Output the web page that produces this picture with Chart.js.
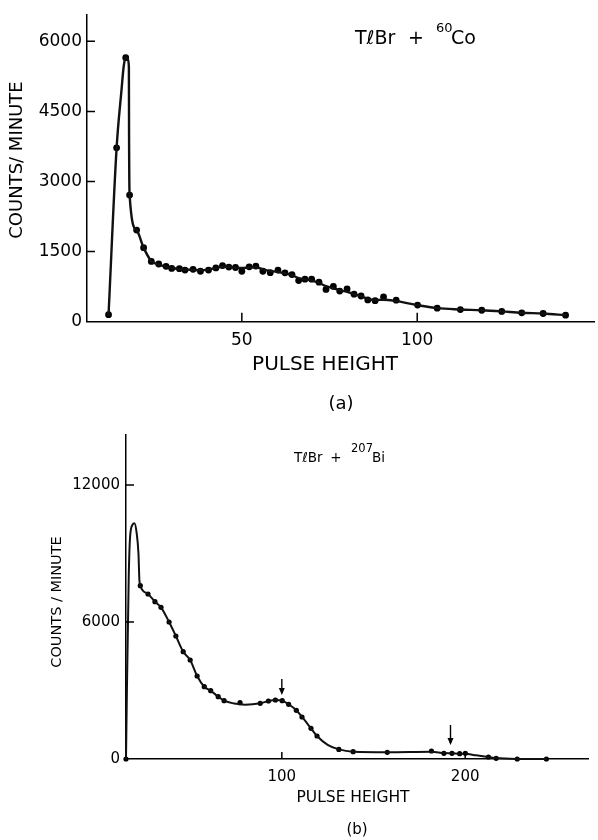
<!DOCTYPE html>
<html>
<head>
    <title>TlBr pulse height spectra</title>
    <script src="https://cdn.jsdelivr.net/npm/chart.js"></script>
    <style>
        body { margin: 0; background: #fff; }
        .panel { position: absolute; left: 0; width: 598px; height: 420px; }
    </style>
</head>
<body>
    <div class="panel" style="top:0"><canvas id="chart-a" width="598" height="420"></canvas></div>
    <div class="panel" style="top:420px"><canvas id="chart-b" width="598" height="420"></canvas></div>

    <script>
        // (a) TlBr + 60Co : measured points
        const coPulse = [12, 14.3, 16.9, 18, 20, 22, 24.2, 26.3, 28.4, 30, 32.2, 33.8, 36.1, 38.2, 40.5, 42.6, 44.5, 46.3, 48.2, 50,
            52.1, 54, 56, 58.1, 60.3, 62.3, 64.3, 66.2, 68, 69.9, 72, 74, 76.1, 77.9, 80, 82, 84, 85.9, 88, 90.4,
            94, 100.1, 105.7, 112.3, 118.4, 124.1, 129.8, 135.9, 142.3];
        const coCounts = [150, 3720, 5650, 2710, 1960, 1585, 1290, 1235, 1185, 1140, 1135, 1105, 1120, 1080, 1105, 1150, 1200, 1170, 1160, 1080,
            1175, 1190, 1080, 1050, 1105, 1045, 1008, 880, 910, 910, 845, 690, 755, 655, 700, 590, 550, 465, 450, 530,
            460, 355, 290, 260, 245, 220, 190, 175, 140];
        // (a) hand-drawn curve
        const coCurvePulse = [12, 14.3, 15.7, 16.3, 16.9, 17.5, 17.8, 17.85, 18, 20, 22, 24.2, 26, 28, 30, 32, 34, 36, 38,
            40, 42, 44, 46, 48, 50, 52, 54, 56, 58, 60, 62, 64, 66, 68, 70, 72, 74, 76, 78,
            80, 82, 84, 86, 88, 90.4, 94, 100.1, 105.7, 112.3, 118.4, 124.1, 129.8, 135.9, 142.3];
        const coCurveCounts = [150, 3720, 4960, 5450, 5666, 5620, 5450, 4000, 2713, 1960, 1585, 1295, 1230, 1185, 1150, 1130, 1115, 1110, 1100,
            1110, 1140, 1170, 1175, 1160, 1150, 1160, 1165, 1120, 1085, 1070, 1040, 1005, 940, 905, 880, 830, 760, 720, 670,
            640, 590, 545, 490, 465, 470, 440, 355, 290, 262, 245, 220, 190, 175, 140];
        const coXTicks = [50, 100];
        const coYTicks = [0, 1500, 3000, 4500, 6000];

        // (b) TlBr + 207Bi : measured points
        const biPulse = [15, 22.8, 27, 30.8, 34.1, 38.5, 42.2, 46.2, 50, 53.8, 57.7, 61.2, 65.3, 68.5, 77.2, 88.2, 92.7, 96.5, 100.2, 103.7,
            107.9, 111, 115.9, 119.2, 131.1, 138.9, 157.5, 181.6, 188.4, 192.8, 197, 200.1, 212.7, 216.9, 228.4, 244.3];
        const biCounts = [0, 7590, 7227, 6890, 6644, 6000, 5387, 4700, 4336, 3635, 3166, 2991, 2728, 2553, 2466, 2440, 2540, 2584, 2553, 2396,
            2133, 1840, 1345, 1007, 420, 320, 293, 350, 250, 250, 232, 250, 88, 30, 0, 0];
        // (b) hand-drawn curve
        const biCurvePulse = [15, 15.5, 16.5, 17.2, 18.5, 19.6, 20.8, 21.8, 22.3, 22.8, 27, 30.8, 34.1, 38.5, 42.2, 46.2, 50, 53.8, 57.7, 61.2,
            65.3, 68.5, 74, 80, 88.2, 92.7, 96.5, 100.2, 103.7, 107.9, 111, 115.9, 119.2, 125, 131.1, 138.9, 157.5, 181.6, 188.4, 192.8,
            197, 200.1, 206, 212.7, 216.9, 228.4, 244.3];
        const biCurveCounts = [0, 3000, 8000, 9700, 10250, 10320, 9900, 9000, 7840, 7590, 7227, 6890, 6644, 6000, 5387, 4700, 4336, 3635, 3166, 2991,
            2728, 2553, 2430, 2380, 2440, 2540, 2584, 2553, 2396, 2133, 1840, 1345, 1007, 620, 420, 320, 300, 320, 260, 250,
            235, 230, 160, 88, 40, 5, 0];
        const biXTicks = [100, 200];
        const biYTicks = [0, 6000, 12000];
        // arrows marking the peaks
        const arrowPulse = [100, 192];
        const arrowTop = [3500, 1490];
        const arrowTip = [2800, 610];

        const FONT = 'DejaVu Sans';
        Chart.defaults.color = '#000';

        function pts(xs, ys) {
            return xs.map((x, i) => ({ x: x, y: ys[i] }));
        }

        function text(ctx, str, x, y, size, align) {
            ctx.font = size + 'px "' + FONT + '"';
            ctx.textAlign = align || 'left';
            ctx.textBaseline = 'alphabetic';
            ctx.fillText(str, x, y);
        }

        function decor(cfg) {
            return {
                id: 'decor',
                afterDraw(chart) {
                    const ctx = chart.ctx;
                    const xs = chart.scales.x, ys = chart.scales.y, area = chart.chartArea;
                    ctx.save();
                    ctx.strokeStyle = '#000';
                    ctx.fillStyle = '#000';
                    ctx.lineWidth = 1.5;

                    // inward tick marks
                    ctx.beginPath();
                    xs.ticks.forEach(t => {
                        const px = xs.getPixelForValue(t.value);
                        ctx.moveTo(px, area.bottom);
                        ctx.lineTo(px, area.bottom - cfg.xTick);
                    });
                    ys.ticks.forEach(t => {
                        if (t.value === 0) return;
                        const py = ys.getPixelForValue(t.value);
                        ctx.moveTo(area.left, py);
                        ctx.lineTo(area.left + cfg.yTick, py);
                    });
                    ctx.stroke();

                    // axis titles
                    ctx.save();
                    ctx.translate(cfg.yTitle[0], cfg.yTitle[1]);
                    ctx.rotate(-Math.PI / 2);
                    ctx.font = cfg.yTitle[2] + 'px "' + FONT + '"';
                    ctx.textAlign = 'center';
                    ctx.textBaseline = 'middle';
                    ctx.fillText(cfg.yTitle[3], 0, 0);
                    ctx.restore();
                    text(ctx, 'PULSE HEIGHT', cfg.xTitle[0], cfg.xTitle[1], cfg.xTitle[2], 'center');
                    text(ctx, cfg.caption[3], cfg.caption[0], cfg.caption[1], cfg.caption[2], 'center');

                    // isotope label with superscript mass number
                    const L = cfg.label;
                    text(ctx, 'T\u2113Br', L.x[0], L.base, L.size);
                    text(ctx, '+', L.x[1], L.base, L.size, 'center');
                    text(ctx, L.mass, L.x[2], L.supBase, L.supSize);
                    text(ctx, L.elem, L.x[3], L.base, L.size);

                    // arrows
                    if (cfg.arrows) {
                        ctx.lineWidth = 1.4;
                        arrowPulse.forEach((p, i) => {
                            const px = xs.getPixelForValue(p);
                            const y0 = ys.getPixelForValue(arrowTop[i]);
                            const y1 = ys.getPixelForValue(arrowTip[i]);
                            ctx.beginPath();
                            ctx.moveTo(px, y0);
                            ctx.lineTo(px, y1 - 2);
                            ctx.stroke();
                            ctx.beginPath();
                            ctx.moveTo(px - 3, y1 - 7);
                            ctx.lineTo(px, y1);
                            ctx.lineTo(px + 3, y1 - 7);
                            ctx.closePath();
                            ctx.fill();
                        });
                    }
                    ctx.restore();
                }
            };
        }

        function makeChart(id, o) {
            new Chart(document.getElementById(id), {
                type: 'line',
                data: {
                    datasets: [{
                        data: pts(o.curveX, o.curveY),
                        borderColor: '#111',
                        borderWidth: o.lineWidth,
                        pointRadius: 0,
                        cubicInterpolationMode: 'monotone',
                        borderCapStyle: 'round',
                        borderJoinStyle: 'round',
                        clip: false
                    }, {
                        data: pts(o.dotX, o.dotY),
                        showLine: false,
                        pointRadius: o.dotRadius,
                        pointBackgroundColor: '#000',
                        pointBorderWidth: 0,
                        clip: false
                    }]
                },
                options: {
                    responsive: false,
                    animation: false,
                    devicePixelRatio: 1,
                    layout: { padding: { top: o.top, right: o.right, left: 0, bottom: 0 } },
                    plugins: { legend: { display: false }, tooltip: { enabled: false } },
                    scales: {
                        x: {
                            type: 'linear',
                            min: o.xMin, max: o.xMax,
                            grid: { display: false, drawTicks: false },
                            border: { display: true, color: '#000', width: 1.5 },
                            ticks: {
                                padding: o.xPad,
                                font: { family: FONT, size: o.tickSize },
                                callback: v => String(v)
                            },
                            afterBuildTicks: s => { s.ticks = o.xTicks.map(v => ({ value: v })); },
                            afterFit: s => { s.height = o.xHeight; }
                        },
                        y: {
                            min: 0, max: o.yMax,
                            grid: { display: false, drawTicks: false },
                            border: { display: true, color: '#000', width: 1.5 },
                            ticks: {
                                padding: o.yPad,
                                font: { family: FONT, size: o.tickSize },
                                callback: v => String(v)
                            },
                            afterBuildTicks: s => { s.ticks = o.yTicks.map(v => ({ value: v })); },
                            afterFit: s => { s.width = o.yWidth; }
                        }
                    }
                },
                plugins: [decor(o.decor)]
            });
        }

        makeChart('chart-a', {
            curveX: coCurvePulse, curveY: coCurveCounts, dotX: coPulse, dotY: coCounts,
            xTicks: coXTicks, yTicks: coYTicks,
            xMin: 5.86, xMax: 150.4, yMax: 6559,
            top: 11, right: 0, xHeight: 98.3, yWidth: 87,
            xPad: 9, yPad: 5, tickSize: 17, lineWidth: 2.4, dotRadius: 3.4,
            decor: {
                xTick: 9, yTick: 8,
                yTitle: [17, 160, 18, 'COUNTS/ MINUTE'],
                xTitle: [325, 370, 20],
                caption: [341, 409, 18, '(a)'],
                label: { x: [355, 416, 436, 451], base: 44, supBase: 32, size: 19, supSize: 13, mass: '60', elem: 'Co' }
            }
        });

        makeChart('chart-b', {
            curveX: biCurvePulse, curveY: biCurveCounts, dotX: biPulse, dotY: biCounts,
            xTicks: biXTicks, yTicks: biYTicks,
            xMin: 15, xMax: 267, yMax: 14190,
            top: 15, right: 10, xHeight: 81, yWidth: 126,
            xPad: 9, yPad: 6, tickSize: 15, lineWidth: 2, dotRadius: 2.6,
            decor: {
                xTick: 7, yTick: 8, arrows: true,
                yTitle: [57.5, 182, 14.5, 'COUNTS / MINUTE'],
                xTitle: [353, 382, 15.5],
                caption: [357, 414, 15, '(b)'],
                label: { x: [294, 336, 351, 372], base: 42, supBase: 32, size: 13.5, supSize: 11.5, mass: '207', elem: 'Bi' }
            }
        });
    </script>
</body>
</html>
